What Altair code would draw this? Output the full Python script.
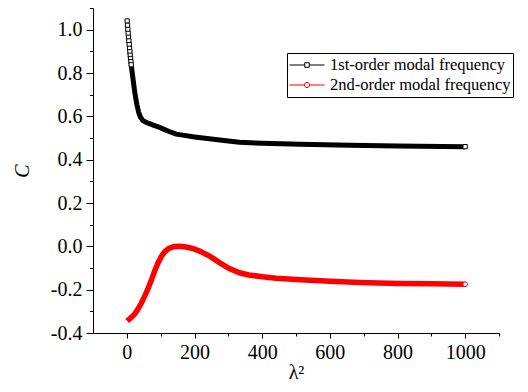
import altair as alt
import pandas as pd

# Series names (legend entries)
series_names = ["1st-order modal frequency", "2nd-order modal frequency"]

# 1st-order modal frequency coefficient C versus lambda^2
first_x = [1, 2, 3, 4, 5, 6, 7, 8, 9, 10, 11, 12, 13, 15, 17, 20, 23, 26, 30, 35, 40,
           47, 55, 67, 80, 95, 110, 125, 146, 170, 200, 250, 300, 333, 400, 511,
           659, 800, 1000]
first_c = [1.040, 1.020, 1.001, 0.983, 0.965, 0.948, 0.931, 0.914, 0.898, 0.882,
           0.867, 0.852, 0.838, 0.812, 0.788, 0.752, 0.716, 0.686, 0.652, 0.618,
           0.597, 0.581, 0.574, 0.566, 0.558, 0.550, 0.540, 0.530, 0.518, 0.512,
           0.505, 0.495, 0.486, 0.480, 0.476, 0.471, 0.466, 0.463, 0.460]

# 2nd-order modal frequency coefficient C versus lambda^2
second_x = [1, 8, 15, 23, 33, 43, 52, 62, 72, 82, 92, 102, 112, 125, 140, 156, 175,
            195, 215, 245, 274, 300, 333, 360, 400, 442, 500, 600, 688, 800, 900, 1000]
second_c = [-0.345, -0.335, -0.325, -0.313, -0.290, -0.262, -0.232, -0.198, -0.158,
            -0.115, -0.077, -0.047, -0.025, -0.009, -0.001, 0.000, -0.003, -0.010,
            -0.022, -0.045, -0.075, -0.100, -0.122, -0.132, -0.140, -0.147, -0.153,
            -0.161, -0.167, -0.171, -0.173, -0.175]

# Axis ticks (major ticks are labelled, minor ticks are short and unlabelled)
x_major = [0, 200, 400, 600, 800, 1000]
x_minor = [100, 300, 500, 700, 900, 1100]
y_major = [-0.4, -0.2, 0.0, 0.2, 0.4, 0.6, 0.8, 1.0]
y_minor = [-0.3, -0.1, 0.1, 0.3, 0.5, 0.7, 0.9, 1.1]

first = pd.DataFrame({"lam2": first_x, "C": first_c, "series": series_names[0]})
second = pd.DataFrame({"lam2": second_x, "C": second_c, "series": series_names[1]})
both = pd.concat([first, second], ignore_index=True)

FONT = "Liberation Serif"
x_scale = alt.Scale(domain=[-100, 1100], nice=False, zero=False)
y_scale = alt.Scale(domain=[-0.4, 1.1], nice=False, zero=False)

x_is_major = "datum.value % 200 === 0"
y_is_major = "abs(round(datum.value * 10)) % 2 === 0"

x_axis = alt.Axis(
    values=sorted(x_major + x_minor), orient="bottom", title="λ²", grid=False,
    labelExpr=f"{x_is_major} ? format(datum.value, 'd') : ''",
    domainColor="black", tickColor="black",
    tickSize={"condition": {"test": x_is_major, "value": 5}, "value": 3},
    labelPadding=4, labelFont=FONT, labelFontSize=20, labelColor="black",
    titleFont=FONT, titleFontSize=20, titleFontWeight="normal", titleColor="black",
    titlePadding=0,
)
y_axis = alt.Axis(
    values=sorted(y_major + y_minor), orient="left", title="C", grid=False,
    labelExpr=(f"{y_is_major} ? replace(format(datum.value, '.1f'), '\u2212', '-')"
               " : ''"),
    domainColor="black", tickColor="black",
    tickSize={"condition": {"test": y_is_major, "value": 7}, "value": 3.5},
    labelPadding=4, labelFont=FONT, labelFontSize=20, labelColor="black",
    titleFont=FONT, titleFontSize=20, titleFontStyle="italic",
    titleFontWeight="normal", titleColor="black", titlePadding=18,
)

# Every layer shares the same positional encodings and axes
X = alt.X("lam2:Q", scale=x_scale, axis=x_axis)
Y = alt.Y("C:Q", scale=y_scale, axis=y_axis)

# Thin connecting line for the 1st-order series
thin = alt.Chart(first).mark_line(color="black", strokeWidth=1).encode(x=X, y=Y)

# Dense markers merge into a solid band
band_first = alt.Chart(first).mark_line(color="black", strokeWidth=5).encode(
    x=X, y=Y
).transform_filter("datum.lam2 >= 13")

band_second = alt.Chart(second).mark_line(color="#ff0000", strokeWidth=5.5).encode(
    x=X, y=Y
)

# Individually visible hollow markers
squares = alt.Chart(first).mark_point(
    shape="square", size=18, filled=True, fill="white", stroke="black",
    strokeWidth=1, opacity=1,
).encode(x=X, y=Y).transform_filter("datum.lam2 <= 13 || datum.lam2 >= 1000")

circles = alt.Chart(second).mark_point(
    shape="circle", size=22, filled=True, fill="white", stroke="#ff0000",
    strokeWidth=1, opacity=1,
).encode(x=X, y=Y).transform_filter("datum.lam2 >= 1000")

# Legend symbols: a line segment with the series marker in the middle
sym_square = "M-1,0H-0.13M0.13,0H1M-0.13,-0.13H0.13V0.13H-0.13Z"
sym_circle = ("M-1,0H-0.15M0.15,0H1M-0.15,0A0.15,0.15,0,1,1,0.15,0"
              "A0.15,0.15,0,1,1,-0.15,0Z")

legend = alt.Legend(
    orient="none", legendX=194, legendY=45, title=None,
    strokeColor="black", fillColor="white", padding=2,
    labelFont=FONT, labelFontSize=16.5, labelColor="black", labelOffset=5,
    labelLimit=400, labelExpr="datum.label + '\u00a0\u00a0'",
    symbolSize=1225, symbolStrokeWidth=1, clipHeight=20, rowPadding=0,
)

legend_layer = alt.Chart(both).mark_point(opacity=0, filled=False).encode(
    x=X, y=Y,
    color=alt.Color("series:N", scale=alt.Scale(domain=series_names,
                                                range=["black", "#ff0000"]),
                    legend=legend),
    shape=alt.Shape("series:N", scale=alt.Scale(domain=series_names,
                                                range=[sym_square, sym_circle]),
                    legend=legend),
)

chart = alt.layer(
    thin, band_first, band_second, squares, circles, legend_layer
).properties(
    width=406, height=325,
    autosize=alt.AutoSizeParams(type="none"),
    padding={"left": 93, "top": 8, "right": 29, "bottom": 59},
    background="white",
).configure(
    font=FONT
).configure_view(
    strokeWidth=0
)

chart.save("out.html", embed_options={"renderer": "svg", "actions": False})
